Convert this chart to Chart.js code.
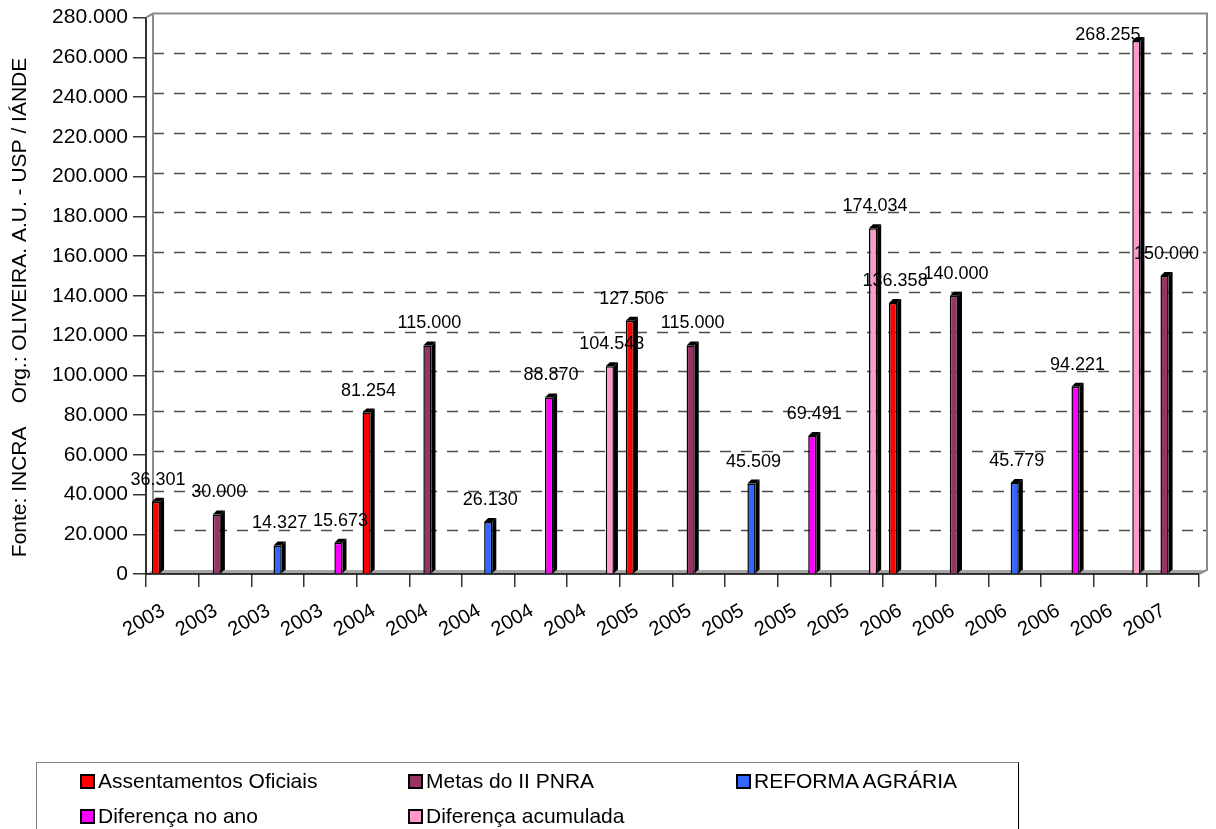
<!DOCTYPE html>
<html>
<head>
<meta charset="utf-8">
<script src="https://cdn.jsdelivr.net/npm/chart.js@4.4.1/dist/chart.umd.min.js"></script>
<style>
  html, body { margin: 0; padding: 0; background: #fff; overflow: hidden; }
  #wrap { position: relative; width: 1216px; height: 829px; }
  #legend {
    position: absolute; left: 36px; top: 762px; width: 983px; height: 100px;
    box-sizing: border-box; border: 1.5px solid #808080; border-right-color: #000;
    display: grid; grid-template-columns: repeat(3, 328px); grid-auto-rows: 35px;
    padding: 6px 0 0 43px;
    font: 21px 'Liberation Sans', Arial, sans-serif; color: #000;
  }
  #legend .item { display: flex; align-items: center; height: 24px; white-space: nowrap; }
  #legend .box { width: 15px; height: 15px; box-sizing: border-box; border: 2px solid #000; margin-right: 3px; }
</style>
</head>
<body>
<div id="wrap">
  <canvas id="chartOne" width="1216" height="829"></canvas>
  <div id="legend"></div>
</div>
<script>
  const categories = ['2003', '2003', '2003', '2003', '2004', '2004', '2004', '2004', '2004', '2005',
                      '2005', '2005', '2005', '2005', '2006', '2006', '2006', '2006', '2006', '2007'];

  const assentamentos = [36301, null, null, null, 81254, null, null, null, null, 127506,
                         null, null, null, null, 136358, null, null, null, null, null];
  const metas = [null, 30000, null, null, null, 115000, null, null, null, null,
                 115000, null, null, null, null, 140000, null, null, null, 150000];
  const reforma = [null, null, 14327, null, null, null, 26130, null, null, null,
                   null, 45509, null, null, null, null, 45779, null, null, null];
  const difAno = [null, null, null, 15673, null, null, null, 88870, null, null,
                  null, null, 69491, null, null, null, null, 94221, null, null];
  const difAcumulada = [null, null, null, null, null, null, null, null, 104543, null,
                        null, null, null, 174034, null, null, null, null, 268255, null];

  const yTicks = [0, 20000, 40000, 60000, 80000, 100000, 120000, 140000, 160000, 180000,
                  200000, 220000, 240000, 260000, 280000];

  const fontFamily = "'Liberation Sans', Arial, sans-serif";
  const fmt = v => String(v).replace(/\B(?=(\d{3})+(?!\d))/g, '.');

  // back wall, floor and dashed grid of the 3D plot area
  const wall = {
    id: 'wall',
    beforeDatasetsDraw(chart) {
      const { ctx, chartArea: a, scales: { y } } = chart;
      const dx = 7, dy = 4;
      ctx.save();
      ctx.fillStyle = '#a6a6a6';
      ctx.beginPath();
      ctx.moveTo(a.left, a.bottom);
      ctx.lineTo(a.left + dx, a.bottom - dy);
      ctx.lineTo(a.right + dx + 1, a.bottom - dy);
      ctx.lineTo(a.right, a.bottom);
      ctx.closePath();
      ctx.fill();

      ctx.strokeStyle = '#4d4d4d';
      ctx.lineWidth = 1.5;
      ctx.setLineDash([11, 10]);
      y.ticks.forEach(t => {
        if (t.value === 0 || t.value === y.max) return;
        const py = Math.round(y.getPixelForValue(t.value) - dy) + 0.5;
        ctx.beginPath();
        ctx.moveTo(a.left + dx, py);
        ctx.lineTo(a.right + dx + 1, py);
        ctx.stroke();
      });
      ctx.setLineDash([]);

      ctx.strokeStyle = '#8c8c8c';
      ctx.lineWidth = 2;
      ctx.beginPath();
      ctx.moveTo(a.left, a.top);
      ctx.lineTo(a.left + dx, a.top - dy);
      ctx.lineTo(a.right + dx + 1, a.top - dy);
      ctx.lineTo(a.right + dx + 1, a.bottom - dy);
      ctx.lineTo(a.right, a.bottom);
      ctx.moveTo(a.left + dx, a.top - dy);
      ctx.lineTo(a.left + dx, a.bottom - dy);
      ctx.stroke();

      ctx.strokeStyle = '#000';
      ctx.lineWidth = 1.5;
      ctx.beginPath();
      ctx.moveTo(a.left, a.bottom);
      ctx.lineTo(a.right, a.bottom);
      ctx.stroke();
      ctx.restore();
    }
  };

  // dark side and top of each column, plus value label
  const bar3d = {
    id: 'bar3d',
    afterDatasetsDraw(chart) {
      const ctx = chart.ctx;
      const top = chart.chartArea.top;
      const d = 4;
      ctx.save();
      chart.data.datasets.forEach((ds, i) => {
        chart.getDatasetMeta(i).data.forEach((bar, j) => {
          if (ds.data[j] == null) return;
          const { x, y, base, width } = bar.getProps(['x', 'y', 'base', 'width'], true);
          const l = x - width / 2, r = x + width / 2;
          ctx.fillStyle = '#000';
          ctx.beginPath();
          ctx.moveTo(r, y);
          ctx.lineTo(r + d, y - d);
          ctx.lineTo(r + d, base - d);
          ctx.lineTo(r, base);
          ctx.closePath();
          ctx.fill();
          ctx.beginPath();
          ctx.moveTo(l, y);
          ctx.lineTo(l + d, y - d);
          ctx.lineTo(r + d, y - d);
          ctx.lineTo(r, y);
          ctx.closePath();
          ctx.fill();

          ctx.font = '18px ' + fontFamily;
          ctx.fillStyle = '#000';
          ctx.textBaseline = 'middle';
          if (y - 22 < top + 12) {
            // no room above the column: put the label beside it
            ctx.textAlign = 'right';
            ctx.fillText(fmt(ds.data[j]), r, y - 6);
          } else {
            ctx.textAlign = 'center';
            ctx.fillText(fmt(ds.data[j]), x + 2, y - 22);
          }
        });
      });
      ctx.restore();
    }
  };

  const chart = new Chart(document.getElementById('chartOne'), {
    type: 'bar',
    data: {
      labels: categories,
      datasets: [
        { label: 'Assentamentos Oficiais', data: assentamentos, backgroundColor: '#ff0000' },
        { label: 'Metas do II PNRA', data: metas, backgroundColor: '#993366' },
        { label: 'REFORMA AGRÁRIA', data: reforma, backgroundColor: '#3366ff' },
        { label: 'Diferença no ano', data: difAno, backgroundColor: '#ff00ff' },
        { label: 'Diferença acumulada', data: difAcumulada, backgroundColor: '#ff99cc' }
      ]
    },
    options: {
      responsive: false,
      animation: false,
      layout: { padding: { top: 15, right: 17, left: 0, bottom: 0 } },
      datasets: {
        bar: {
          borderColor: '#000',
          borderWidth: 1.5,
          categoryPercentage: 0.775,
          barPercentage: 1
        }
      },
      plugins: {
        legend: { display: false },
        tooltip: { enabled: false }
      },
      scales: {
        x: {
          afterFit: s => { s.height = 255; },
          grid: { drawOnChartArea: false, tickLength: 13, color: '#333', lineWidth: 1.5 },
          border: { display: false },
          ticks: {
            autoSkip: false, minRotation: 30, maxRotation: 30,
            padding: 12, labelOffset: -9, color: '#000',
            font: { family: fontFamily, size: 20 }
          }
        },
        y: {
          min: 0, max: 280000,
          afterFit: s => { s.width = 146; },
          afterBuildTicks: s => { s.ticks = yTicks.map(v => ({ value: v })); },
          grid: { drawOnChartArea: false, tickLength: 13, color: '#333', lineWidth: 1.5 },
          border: { display: true, color: '#333', width: 2 },
          ticks: {
            padding: 5, color: '#000',
            font: { family: fontFamily, size: 21 },
            callback: v => fmt(v)
          },
          title: {
            display: true,
            text: 'Fonte: INCRA    Org.: OLIVEIRA. A.U. - USP / IÁNDE    ',
            color: '#000',
            padding: { top: 8, bottom: 0 },
            font: { family: fontFamily, size: 21 }
          }
        }
      }
    },
    plugins: [wall, bar3d]
  });

  const legend = document.getElementById('legend');
  chart.data.datasets.forEach(ds => {
    const item = document.createElement('div');
    item.className = 'item';
    const box = document.createElement('span');
    box.className = 'box';
    box.style.background = ds.backgroundColor;
    item.appendChild(box);
    item.appendChild(document.createTextNode(ds.label));
    legend.appendChild(item);
  });
</script>
</body>
</html>
